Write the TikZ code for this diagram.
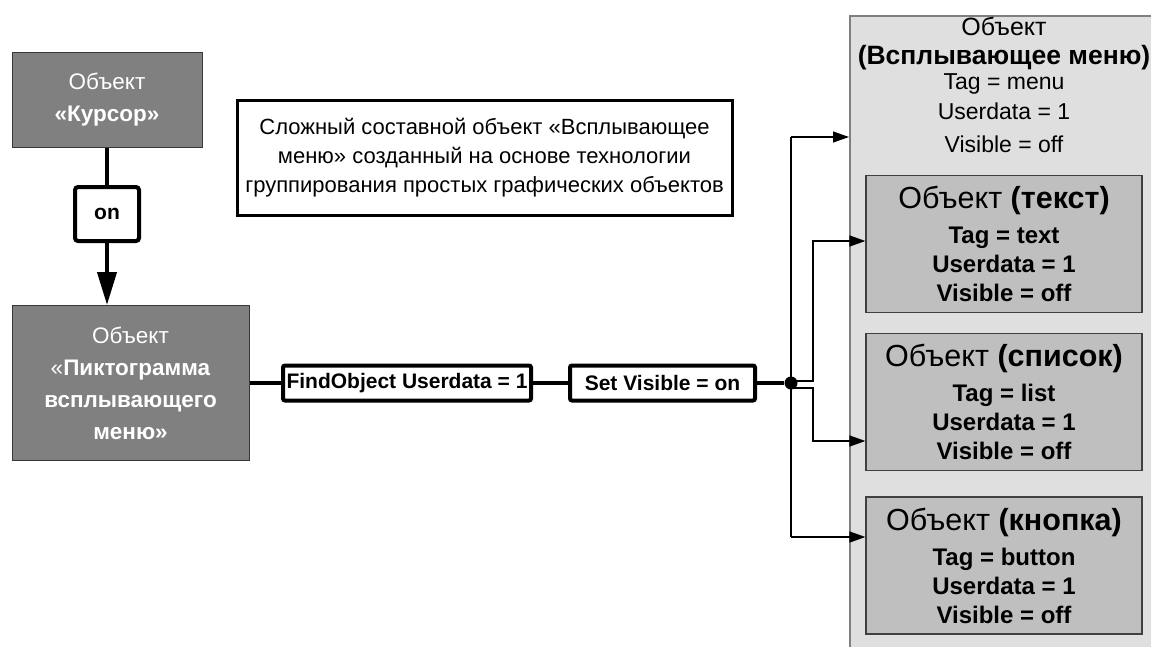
\documentclass[tikz,border=0pt]{standalone}
\usepackage{fontspec}
\setmainfont{Liberation Sans}
\usetikzlibrary{arrows.meta}

\definecolor{objfill}{gray}{0.5}
\definecolor{objedge}{gray}{0.22}
\definecolor{menufill}{gray}{0.875}
\definecolor{menuedge}{gray}{0.5}
\definecolor{itemfill}{gray}{0.75}
\definecolor{itemedge}{gray}{0.25}

\begin{document}
\begin{tikzpicture}[x=1pt,y=-1pt,
  darkobj/.style={draw=objedge, line width=1pt, fill=objfill, text=white,
    align=center, inner sep=0pt, font=\fontsize{22.5}{32}\selectfont},
  opbox/.style={draw=black, line width=4pt, rounded corners=2pt, fill=white,
    inner sep=0pt, font=\bfseries\fontsize{21}{24}\selectfont},
  notebox/.style={draw=black, line width=3pt, fill=white, align=center,
    inner sep=0pt, font=\fontsize{22}{29}\selectfont},
  menubox/.style={draw=menuedge, line width=2pt, fill=menufill, inner sep=0pt},
  itembox/.style={draw=itemedge, line width=1.2pt, fill=itemfill, align=center,
    inner sep=0pt, minimum width=276pt, minimum height=137pt,
    font=\bfseries\fontsize{24}{29}\selectfont},
  hubdot/.style={circle, fill=black, minimum size=13pt, inner sep=0pt},
  thicklink/.style={line width=4pt},
  thinlink/.style={line width=1.3pt},
  tip/.style={-{Triangle[length=16pt,width=11pt]}},
  bigtip/.style={-{Triangle[length=33pt,width=19pt]}}
]
\useasboundingbox (0,0) rectangle (1151,646);
\clip (0,0) rectangle (1151,646);

% composite pop-up menu container (runs past the right and bottom edges)
\node[menubox, minimum width=310pt, minimum height=645pt, anchor=north west]
  (menu) at (849,15) {};
\node[anchor=north, align=center, inner sep=0pt,
  font=\fontsize{23}{30}\selectfont] (menuhdr) at (1004,16.5)
  {{\fontsize{25}{30}\selectfont Объект}\\[-1pt]
   {\fontsize{26.5}{30}\selectfont\bfseries (Всплывающее меню)}\\[-5pt]
   Tag = menu\\[0pt]
   Userdata = 1\\[3pt]
   Visible = off};

% child objects of the menu
\node[itembox] (itext) at (1004,244)
  {{\mdseries\fontsize{30.5}{30}\selectfont Объект \textbf{(текст)}}\\[6pt]
   Tag = text\\ Userdata = 1\\ Visible = off};
\node[itembox] (ilist) at (1004,402)
  {{\mdseries\fontsize{30.5}{30}\selectfont Объект \textbf{(список)}}\\[6pt]
   Tag = list\\ Userdata = 1\\ Visible = off};
\node[itembox] (ibutton) at (1004,565.5)
  {{\mdseries\fontsize{30.5}{30}\selectfont Объект \textbf{(кнопка)}}\\[6pt]
   Tag = button\\ Userdata = 1\\ Visible = off};

% left-hand objects
\node[darkobj, minimum width=190pt, minimum height=95pt] (cursor) at (107,99.5)
  {Объект\\\textbf{«Курсор»}};
\node[opbox, minimum width=64pt, minimum height=54pt, rounded corners=3pt]
  (on) at (107,214) {on};
\node[darkobj, minimum width=237pt, minimum height=155pt] (pict) at (130.5,383)
  {Объект\\«\textbf{Пиктограмма}\\\textbf{всплывающего}\\\textbf{меню»}};

% description
\node[notebox, minimum width=495pt, minimum height=115pt] (note) at (484.5,157.5)
  {Сложный составной объект «Всплывающее\\
   меню» созданный на основе технологии\\
   группирования простых графических объектов};

% actions
\node[opbox, minimum width=248pt, minimum height=35pt] (find) at (407,383)
  {FindObject Userdata = 1};
\node[opbox, minimum width=185pt, minimum height=35pt] (setvis) at (662.5,383)
  {Set Visible = on};
\node[hubdot] (hub) at (791,383) {};

% thick event chain
\draw[thicklink] (cursor.south -| on.north) -- (on.north);
\draw[thicklink, bigtip] (on.south) -- (on.south |- pict.north);
\draw[thicklink] (pict) -- (find);
\draw[thicklink] (find) -- (setvis);
\draw[thicklink] (setvis) -- (hub);

% distribution to the menu and its children
\coordinate (vtop) at (791,137);
\coordinate (vbot) at (791,537);
\coordinate (forkup) at (813,241);
\coordinate (forkdn) at (813,441);
\draw[thinlink] (vtop) -- (vbot);
\draw[thinlink, tip] (vtop) -- (menu.west |- vtop);
\draw[thinlink, tip] (vbot) -- (ibutton.west |- vbot);
\draw[thinlink, tip] ([yshift=2pt]hub.center) -| (forkup) -- (itext.west |- forkup);
\draw[thinlink, tip] ([yshift=-5pt]hub.center) -| (forkdn) -- (ilist.west |- forkdn);
\end{tikzpicture}
\end{document}
